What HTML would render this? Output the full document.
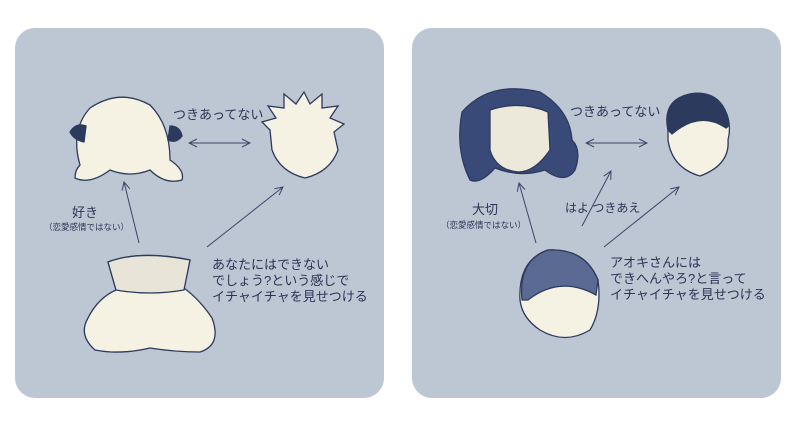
<!DOCTYPE html>
<html><head><meta charset="utf-8"><style>
html,body{margin:0;padding:0;background:#fff;}
svg{display:block;}
text{font-family:"Liberation Sans","Noto Sans CJK JP",sans-serif;fill:#2a3456;}
</style></head><body>
<svg width="798" height="423" viewBox="0 0 798 423">
<defs><marker id="a" markerWidth="10" markerHeight="10" refX="9" refY="5" orient="auto" markerUnits="userSpaceOnUse"><path d="M1,1 L9,5 L1,9" fill="none" stroke="#3a4668" stroke-width="1"/></marker></defs>
<rect x="15" y="28" width="369" height="370" rx="20" fill="#bdc6d3"/>
<rect x="412" y="28" width="369" height="370" rx="20" fill="#bdc6d3"/>
<g stroke="#2c3a5e" stroke-width="1.3">
<!-- left top-left face -->
<path d="M80,165 Q70,130 90,108 Q120,88 150,105 Q170,125 170,160 Q185,170 182,180 Q165,185 150,170 Q130,178 110,170 Q90,185 75,178 Q75,170 80,165Z" fill="#f6f2e3"/>
<path d="M70,132 Q76,122 86,126 L84,142 Q74,140 70,132Z" fill="#2c3a5e"/>
<path d="M170,126 Q180,126 182,136 Q176,144 168,140Z" fill="#2c3a5e"/>
<!-- spiky -->
<path d="M270,130 L262,122 L276,118 L268,106 L284,108 L284,94 L296,104 L304,92 L310,104 L322,94 L322,108 L338,106 L330,118 L344,124 L334,132 L338,150 Q330,172 305,178 Q280,172 272,150Z" fill="#f6f2e3"/>
<!-- bottom left -->
<path d="M108,262 Q140,250 190,260 L184,288 Q200,300 212,318 Q222,345 200,352 Q175,352 150,348 Q120,355 95,350 Q78,335 88,318 Q98,298 116,290Z" fill="#f6f2e3"/>
<path d="M108,262 Q140,250 190,260 L184,290 Q150,296 116,290Z" fill="#e8e5d8"/>
<!-- right top-left face -->
<path d="M470,180 Q455,150 462,112 Q490,80 540,92 Q570,110 572,140 Q582,150 575,170 Q565,185 545,170 Q520,178 495,168 Q480,185 470,180Z" fill="#3a4a78"/>
<path d="M490,110 Q520,100 548,112 L550,150 Q535,172 518,172 Q496,170 490,150Z" fill="#ede9da"/>
<!-- right top-right face -->
<path d="M668,130 Q662,100 690,94 Q715,90 725,110 Q732,125 728,140 Q730,165 700,176 Q672,168 668,140Z" fill="#f6f2e3"/>
<path d="M668,130 Q662,100 690,94 Q715,90 725,110 Q732,125 726,128 Q700,110 672,134Z" fill="#2c3a5e"/>
<!-- right bottom -->
<path d="M520,300 Q518,260 548,250 Q585,248 598,280 Q602,310 590,330 Q565,345 540,330 Q522,318 520,300Z" fill="#f6f2e3"/>
<path d="M522,300 Q518,260 548,250 Q585,248 598,280 L596,295 Q560,275 528,300Z" fill="#5a6a92"/>
</g>
<g stroke="#3a4668" stroke-width="1" fill="none" marker-end="url(#a)">
<line x1="189" y1="143" x2="250" y2="143"/><line x1="250" y1="143" x2="189" y2="143"/>
<line x1="139" y1="243" x2="124" y2="182"/>
<line x1="207" y1="247" x2="283" y2="187"/>
<line x1="586" y1="143" x2="647" y2="143"/><line x1="647" y1="143" x2="586" y2="143"/>
<line x1="536" y1="243" x2="519" y2="183"/>
<line x1="582" y1="226" x2="611" y2="171"/>
<line x1="604" y1="247" x2="679" y2="187"/>
</g>
<text x="173" y="119" font-size="13">つきあってない</text>
<text x="72" y="217" font-size="13">好き</text>
<text x="44" y="230" font-size="8.5">（恋愛感情ではない）</text>
<text x="212" y="269" font-size="13">あなたにはできない</text>
<text x="212" y="285" font-size="13">でしょう?という感じで</text>
<text x="212" y="301" font-size="13">イチャイチャを見せつける</text>
<text x="570" y="116" font-size="13">つきあってない</text>
<text x="472" y="214" font-size="13">大切</text>
<text x="441" y="228" font-size="8.5">（恋愛感情ではない）</text>
<text x="565" y="212" font-size="12">はよ つきあえ</text>
<text x="610" y="267" font-size="13">アオキさんには</text>
<text x="610" y="283" font-size="13">できへんやろ?と言って</text>
<text x="610" y="299" font-size="13">イチャイチャを見せつける</text>
</svg>
</body></html>
